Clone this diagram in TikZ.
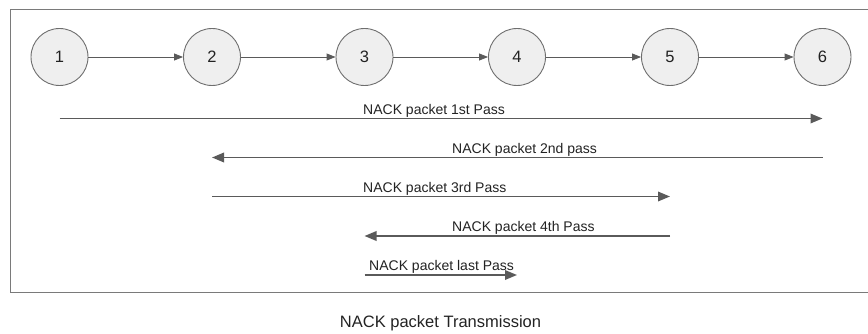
\documentclass[tikz,border=0pt]{standalone}
\usepackage{fontspec}
\setmainfont{Liberation Sans}
\usetikzlibrary{arrows.meta}
\definecolor{frameg}{HTML}{7A7A7A}
\definecolor{lineg}{HTML}{5A5A5A}
\definecolor{nodefill}{HTML}{EFEFEF}
\definecolor{nodeedge}{HTML}{6E6E6E}
\definecolor{txt}{HTML}{222222}
\tikzset{
  stn/.style={circle, draw=nodeedge, line width=0.9pt, fill=nodefill, minimum size=57pt, inner sep=0pt, font=\fontsize{16.5}{18}\selectfont, text=txt},
  link/.style={draw=lineg, line width=0.9pt, -{Triangle[length=9pt,width=7pt]}},
  pass/.style={draw=lineg, line width=1.8pt, -{Triangle[length=12pt,width=9.5pt]}},
  plabel/.style={anchor=base west, inner sep=0pt, font=\fontsize{14}{16}\selectfont, text=txt},
}
\begin{document}
\begin{tikzpicture}[x=1pt,y=-1pt]
\useasboundingbox (0,0) rectangle (868,334);
\draw[frameg, line width=1.3pt] (875,9.3) -- (10.7,9.3) -- (10.7,292.5) -- (875,292.5);
\clip (0,0) rectangle (868,334);
\node[stn] (n1) at (59.5,57) {1};
\node[stn] (n2) at (212,57) {2};
\node[stn] (n3) at (364.5,57) {3};
\node[stn] (n4) at (517,57) {4};
\node[stn] (n5) at (670,57) {5};
\node[stn] (n6) at (822.5,57) {6};
\draw[link] (n1) -- (n2);
\draw[link] (n2) -- (n3);
\draw[link] (n3) -- (n4);
\draw[link] (n4) -- (n5);
\draw[link] (n5) -- (n6);
% pass end points
\coordinate (a1) at (n1 |- 0,118.5);
\coordinate (b1) at (n6 |- 0,118.5);
\coordinate (a2) at (n6 |- 0,157.5);
\coordinate (b2) at (n2 |- 0,157.5);
\coordinate (a3) at (n2 |- 0,196.5);
\coordinate (b3) at (n5 |- 0,196.5);
\coordinate (a4) at (n5 |- 0,236);
\coordinate (b4) at (n3 |- 0,236);
\coordinate (a5) at (n3 |- 0,275);
\coordinate (b5) at (n4 |- 0,275);
\draw[pass] (a1) -- (b1);
\draw[pass] (a2) -- (b2);
\draw[pass] (a3) -- (b3);
\draw[pass] (a4) -- (b4);
\draw[pass] (a5) -- (b5);
\node[plabel] (t1) at (363,114.5) {NACK packet 1st Pass};
\node[plabel] (t2) at (452,153.5) {NACK packet 2nd pass};
\node[plabel] (t3) at (363,192.5) {NACK packet 3rd Pass};
\node[plabel] (t4) at (452,232) {NACK packet 4th Pass};
\node[plabel] (t5) at (369,270.5) {NACK packet last Pass};
\node[anchor=base, inner sep=0pt, font=\fontsize{16.5}{18}\selectfont, text=txt] (cap) at (440.5,327) {NACK packet Transmission};
\end{tikzpicture}
\end{document}
